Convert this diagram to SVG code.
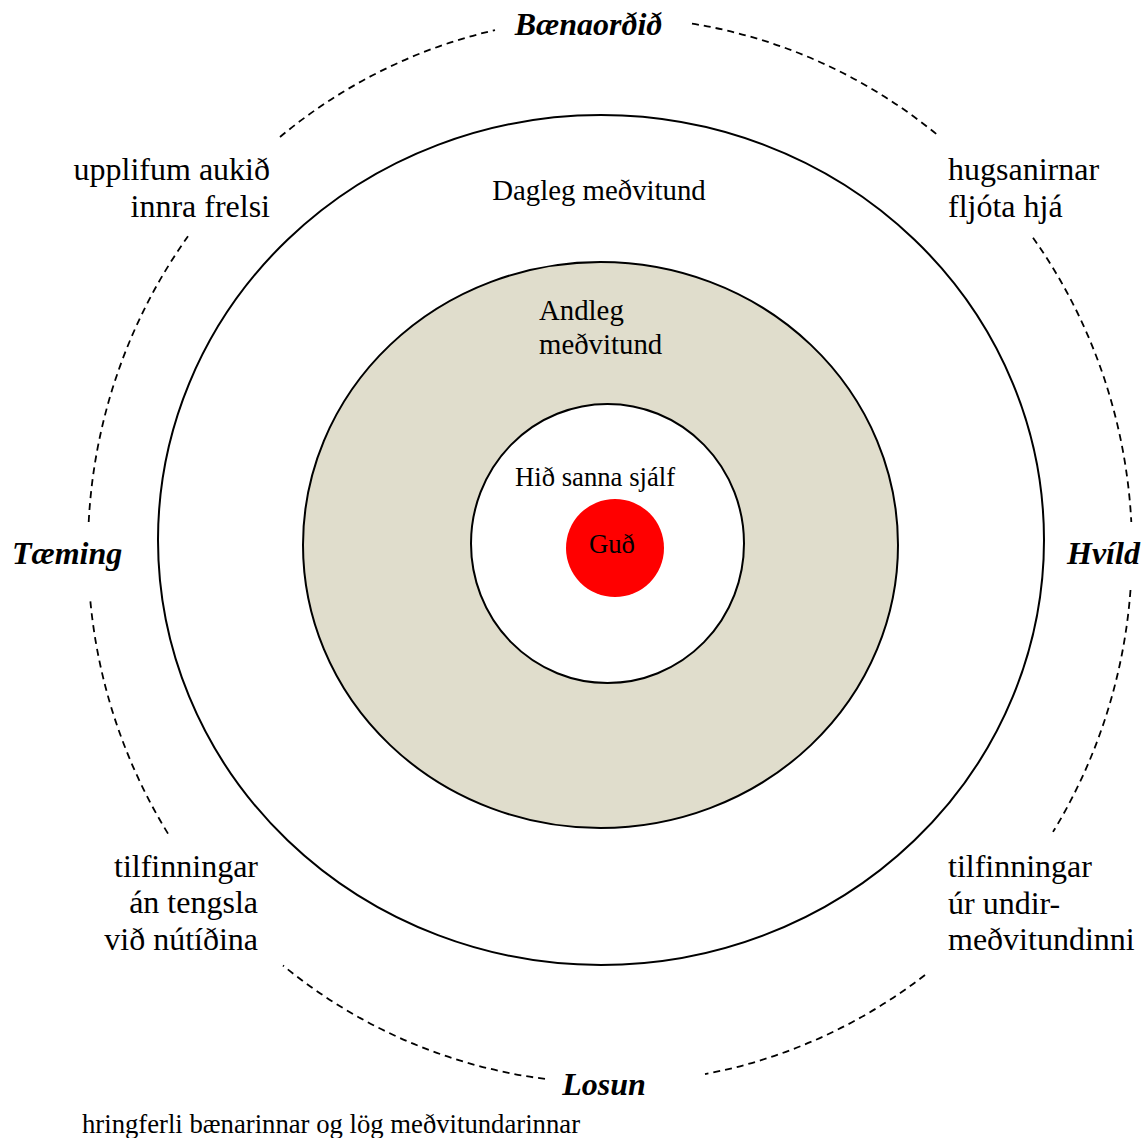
<svg xmlns="http://www.w3.org/2000/svg" width="1145" height="1138" viewBox="0 0 1145 1138">
<style>
.t{font-family:"Liberation Serif","Times New Roman",serif;fill:#000}
.n32{font-size:32px}
.bi{font-size:32px;font-weight:bold;font-style:italic}
.n28{font-size:28.8px}
.n27{font-size:26.7px}
.ring{stroke:#000;stroke-width:2}
.dash{fill:none;stroke:#000;stroke-width:1.8;stroke-dasharray:7 5}
</style>
<rect width="1145" height="1138" fill="#fff"/>
<g id="connectors">
<path class="dash" d="M280,137 A522,533 0 0 1 495,30.1"/>
<path class="dash" d="M692,23.6 A522,533 0 0 1 938,135.4"/>
<path class="dash" d="M1033,237.7 A522,533 0 0 1 1131.3,522"/>
<path class="dash" d="M1130.5,590 A522,533 0 0 1 1053,831.9"/>
<path class="dash" d="M925,975 A522,533 0 0 1 705,1074.1"/>
<path class="dash" d="M545,1078.9 A522,533 0 0 1 283,965.5"/>
<path class="dash" d="M168,833.6 A522,533 0 0 1 90,597"/>
<path class="dash" d="M88.7,522 A522,533 0 0 1 188,236.3"/>
</g>
<g id="dagleg">
<ellipse class="ring" cx="601" cy="540" rx="443" ry="425" fill="#fff"/>
<text class="t n28" x="599" y="200" text-anchor="middle">Dagleg meðvitund</text>
</g>
<g id="andleg">
<ellipse class="ring" cx="600.5" cy="545" rx="297.5" ry="283" fill="#E0DDCC"/>
<text class="t n28" x="539" y="320">Andleg</text>
<text class="t n28" x="539" y="354">meðvitund</text>
</g>
<g id="sjalf">
<ellipse class="ring" cx="607.5" cy="543.5" rx="136.5" ry="139.5" fill="#fff"/>
<text class="t n27" x="515" y="486">Hið sanna sjálf</text>
</g>
<g id="gud">
<circle cx="615" cy="548" r="49" fill="#FF0000"/>
<text class="t n27" x="589" y="553">Guð</text>
</g>
<g id="baenaordid"><text class="t bi" x="588.5" y="35" text-anchor="middle">Bænaorðið</text></g>
<g id="hvild"><text class="t bi" x="1067" y="564">Hvíld</text></g>
<g id="losun"><text class="t bi" x="604" y="1095" text-anchor="middle">Losun</text></g>
<g id="taeming"><text class="t bi" x="12" y="564">Tæming</text></g>
<g id="upplifum">
<text class="t n32" x="270" y="180" text-anchor="end">upplifum aukið</text>
<text class="t n32" x="270" y="217" text-anchor="end">innra frelsi</text>
</g>
<g id="hugsanir">
<text class="t n32" x="948" y="180">hugsanirnar</text>
<text class="t n32" x="948" y="217">fljóta hjá</text>
</g>
<g id="tilf-left">
<text class="t n32" x="258" y="877" text-anchor="end">tilfinningar</text>
<text class="t n32" x="258" y="913" text-anchor="end">án tengsla</text>
<text class="t n32" x="258" y="950" text-anchor="end">við nútíðina</text>
</g>
<g id="tilf-right">
<text class="t n32" x="948" y="877">tilfinningar</text>
<text class="t n32" x="948" y="914">úr undir-</text>
<text class="t n32" x="948" y="950">meðvitundinni</text>
</g>
<text class="t n27" x="82" y="1133">hringferli bænarinnar og lög meðvitundarinnar</text>
</svg>
